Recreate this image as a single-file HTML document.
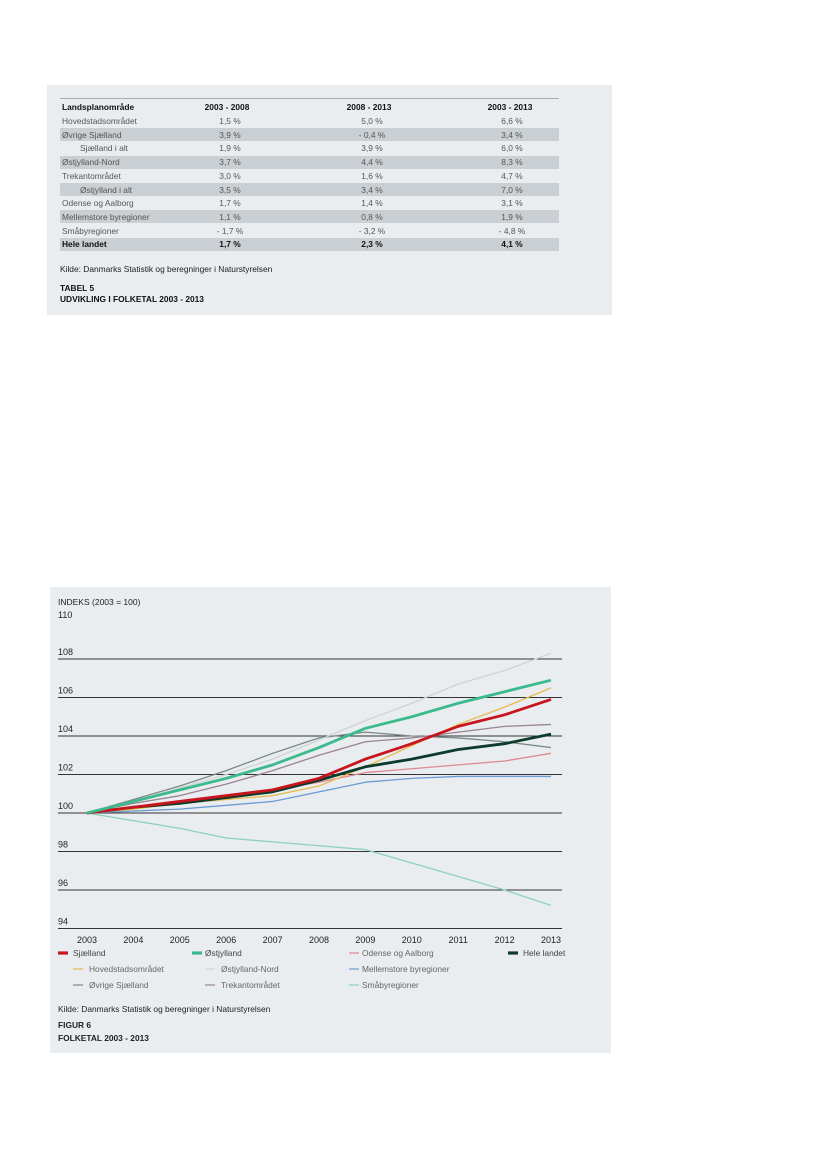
<!DOCTYPE html>
<html><head><meta charset="utf-8"><style>
body{margin:0;width:827px;height:1169px;background:#fff;position:relative;font-family:"Liberation Sans",sans-serif;overflow:hidden}
.panel{position:absolute;background:#e9edf0}
.t{position:absolute;font-size:8.4px;color:#555;white-space:nowrap;line-height:1}
.b{font-weight:bold;color:#111}
.row{position:absolute;left:60px;width:499px;height:13px}
</style></head><body>
<div class="panel" style="left:47px;top:85px;width:565px;height:230px"></div>
<div id="tbl"></div>
<div class="panel" style="left:50px;top:587px;width:561px;height:466px"></div>
<svg id="chart" width="827" height="1169" style="position:absolute;left:0;top:0"></svg>
<script>
const rows=[["Hovedstadsområdet","1,5 %","5,0 %","6,6 %",0,0],["Øvrige Sjælland","3,9 %","- 0,4 %","3,4 %",1,0],["Sjælland i alt","1,9 %","3,9 %","6,0 %",0,1],["Østjylland-Nord","3,7 %","4,4 %","8,3 %",1,0],["Trekantområdet","3,0 %","1,6 %","4,7 %",0,0],["Østjylland i alt","3,5 %","3,4 %","7,0 %",1,1],["Odense og Aalborg","1,7 %","1,4 %","3,1 %",0,0],["Mellemstore byregioner","1,1 %","0,8 %","1,9 %",1,0],["Småbyregioner","- 1,7 %","- 3,2 %","- 4,8 %",0,0],["Hele landet","1,7 %","2,3 %","4,1 %",1,0]];
const tb=document.getElementById('tbl');let h='';
h+='<div style="position:absolute;left:60px;top:98px;width:499px;height:1px;background:#aab"></div>';
h+='<div class="t b" style="left:62px;top:103px">Landsplanområde</div>';
[["2003 - 2008",227],["2008 - 2013",369],["2003 - 2013",510]].forEach(c=>{h+='<div class="t b" style="left:'+(c[1]-40)+'px;width:80px;text-align:center;top:103px">'+c[0]+'</div>'});
rows.forEach((r,i)=>{const top=114.5+i*13.7;const last=i==9;
h+='<div class="row" style="top:'+top+'px;background:'+(r[4]?'#c9cfd3':'transparent')+'"></div>';
h+='<div class="t'+(last?' b':'')+'" style="left:'+(r[5]?80:62)+'px;top:'+(top+2.5)+'px">'+r[0]+'</div>';
[230,372,512].forEach((x,j)=>{h+='<div class="t'+(last?' b':'')+'" style="left:'+(x-30)+'px;width:60px;text-align:center;top:'+(top+2.5)+'px">'+r[j+1]+'</div>'});});
h+='<div class="t" style="left:60px;top:265px;color:#222">Kilde: Danmarks Statistik og beregninger i Naturstyrelsen</div>';
h+='<div class="t b" style="left:60px;top:283px;line-height:10.5px">TABEL 5<br>UDVIKLING I FOLKETAL 2003 - 2013</div>';
tb.innerHTML=h;
</script>
<script>
const years=["2003","2004","2005","2006","2007","2008","2009","2010","2011","2012","2013"];
const yTicks=[94,96,98,100,102,104,106,108];
const sjaelland=[100,100.3,100.6,100.9,101.2,101.8,102.8,103.6,104.5,105.1,105.9];
const ostjylland=[100,100.6,101.2,101.8,102.5,103.4,104.4,105.0,105.7,106.3,106.9];
const odense=[100,100.3,100.6,100.9,101.2,101.6,102.1,102.3,102.5,102.7,103.1];
const heleLandet=[100,100.3,100.5,100.8,101.1,101.7,102.4,102.8,103.3,103.6,104.1];
const hovedstad=[100,100.2,100.5,100.7,100.9,101.4,102.4,103.5,104.6,105.5,106.5];
const ostNord=[100,100.6,101.3,102.0,102.8,103.8,104.8,105.7,106.7,107.4,108.3];
const mellemstore=[100,100.1,100.2,100.4,100.6,101.1,101.6,101.8,101.9,101.9,101.9];
const ovrigeSj=[100,100.7,101.4,102.2,103.1,103.9,104.2,104.0,103.9,103.7,103.4];
const trekant=[100,100.5,100.9,101.5,102.2,103.0,103.7,103.9,104.2,104.5,104.6];
const smaby=[100,99.6,99.2,98.7,98.5,98.3,98.1,97.4,96.7,96.0,95.2];
const series=[
["Sjælland",sjaelland,"#c8141c",3.2,58,73,956],
["Østjylland",ostjylland,"#3dba8c",3.2,192,205,956],
["Odense og Aalborg",odense,"#e0898f",1.2,349,362,956],
["Hele landet",heleLandet,"#0d3b2a",3.2,508,523,956],
["Hovedstadsområdet",hovedstad,"#e8b84a",1.2,73,89,972],
["Østjylland-Nord",ostNord,"#cfd3d5",1.2,205,221,972],
["Mellemstore byregioner",mellemstore,"#6c9ad4",1.2,349,362,972],
["Øvrige Sjælland",ovrigeSj,"#7a8a86",1.2,73,89,988],
["Trekantområdet",trekant,"#9b8391",1.2,205,221,988],
["Småbyregioner",smaby,"#8fd1b8",1.2,349,362,988]];
const X=i=>87+i*46.4, Y=v=>813-(v-100)*19.25;
const svg=document.getElementById('chart'),NS="http://www.w3.org/2000/svg";
function mk(t,a,p){const e=document.createElementNS(NS,t);for(const k in a)e.setAttribute(k,a[k]);(p||svg).appendChild(e);return e}
function txt(s,x,y,o){const e=mk('text',Object.assign({x:x,y:y,'font-size':'9','font-family':'Liberation Sans, sans-serif',fill:'#222'},o||{}));e.textContent=s;return e}
let e=txt("INDEKS (2003 = 100)",58,605,{'font-size':'8.5'});


e=txt("110",58,618);


yTicks.forEach(v=>{const l=mk('line',{x1:58,x2:562,y1:Y(v),y2:Y(v),stroke:'#333','stroke-width':0.9});


const t=txt(String(v),58,Y(v)-4);

});
years.forEach((y,i)=>{const t=txt(y,X(i),943,{'text-anchor':'middle'});

});
const order=[9,7,5,8,2,6,4,3,0,1];
order.forEach(k=>{const s=series[k];const p=mk('polyline',{points:s[1].map((v,i)=>X(i)+','+Y(v)).join(' '),fill:'none',stroke:s[2],'stroke-width':s[3]==1.2?1.3:2.8,'stroke-linejoin':'round'});

});
series.forEach(s=>{const g=mk('g',{});


mk('line',{x1:s[4],x2:s[4]+10,y1:s[6]-3,y2:s[6]-3,stroke:s[2],'stroke-width':s[3]},g);
const t=txt(s[0],s[5],s[6],{'font-size':'8.4',fill:s[3]>2?'#444':'#666'});g.appendChild(t);});
e=txt("Kilde: Danmarks Statistik og beregninger i Naturstyrelsen",58,1012,{'font-size':'8.4'});


e=txt("FIGUR 6",58,1028,{'font-size':'8.4','font-weight':'bold'});


e=txt("FOLKETAL 2003 - 2013",58,1041,{'font-size':'8.4','font-weight':'bold'});


</script>
</body></html>
